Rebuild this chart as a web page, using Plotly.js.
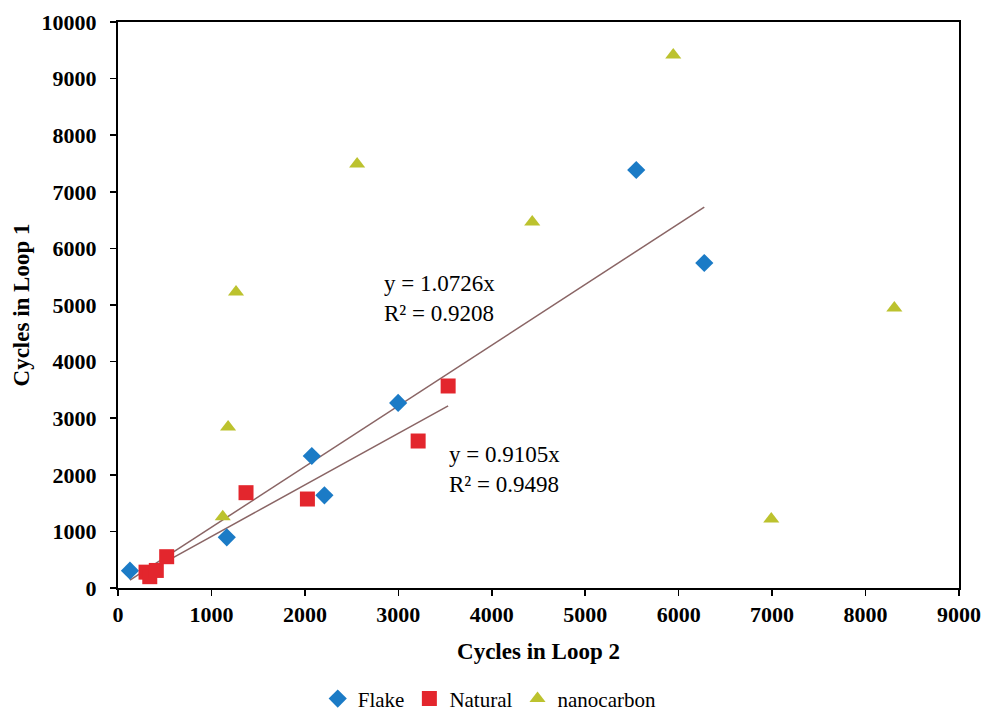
<!DOCTYPE html>
<html><head><meta charset="utf-8">
<script src="https://cdn.plot.ly/plotly-3.0.1.min.js"></script>
<style>body{margin:0;background:#fff}#c{width:983px;height:713px}</style>
</head><body><div id="c"></div>
<script>
var flakeX = [128, 1164, 2074, 2209, 2998, 5546, 6274];
var flakeY = [306, 896, 2332, 1638, 3269, 7385, 5742];
var naturalX = [300, 340, 410, 521, 1370, 2027, 3212, 3533];
var naturalY = [280, 200, 310, 553, 1684, 1572, 2597, 3569];
var nanoX = [1121, 1178, 1263, 2559, 4433, 5942, 6991, 8308];
var nanoY = [1260, 2845, 5230, 7491, 6466, 9417, 1219, 4947];
var flakeSlope = 1.0726, flakeR2 = 0.9208;
var naturalSlope = 0.9105, naturalR2 = 0.9498;
var xTicks = [0,1000,2000,3000,4000,5000,6000,7000,8000,9000];
var yTicks = [0,1000,2000,3000,4000,5000,6000,7000,8000,9000,10000];

function fitLine(xs, k){
  var a = Math.min.apply(null, xs), b = Math.max.apply(null, xs);
  return {x:[a,b], y:[a*k,b*k]};
}
var f1 = fitLine(flakeX, flakeSlope), f2 = fitLine(naturalX, naturalSlope);
var serif = 'Liberation Serif, Times New Roman, serif';
var data = [
  {x:f1.x, y:f1.y, mode:'lines', line:{color:'#8a6565', width:1.5}, showlegend:false, hoverinfo:'skip'},
  {x:f2.x, y:f2.y, mode:'lines', line:{color:'#8a6565', width:1.5}, showlegend:false, hoverinfo:'skip'},
  {x:flakeX, y:flakeY, mode:'markers', name:'Flake', marker:{symbol:'diamond', size:14, color:'#1b7bc6'}},
  {x:naturalX, y:naturalY, mode:'markers', name:'Natural', marker:{symbol:'square', size:15, color:'#e3262d'}},
  {x:nanoX, y:nanoY, mode:'markers', name:'nanocarbon', marker:{symbol:'triangle-up', size:14, color:'#bcc22e'}}
];
var layout = {
  width:983, height:713,
  margin:{l:118, r:24, t:22, b:125, autoexpand:false},
  paper_bgcolor:'#fff', plot_bgcolor:'#fff',
  font:{family:serif, color:'#000', size:22},
  xaxis:{range:[0,9000], tickvals:xTicks, ticktext:xTicks.map(String), showgrid:false, zeroline:false,
    showline:true, mirror:true, linecolor:'#000', linewidth:2, ticks:'outside', ticklen:6, tickwidth:1.5, tickcolor:'#000',
    tickfont:{family:serif, size:22, weight:'bold'},
    title:{text:'<b>Cycles in Loop 2</b>', font:{family:serif, size:23}, standoff:16}},
  yaxis:{range:[0,10000], tickvals:yTicks, ticktext:yTicks.map(String), showgrid:false, zeroline:false,
    showline:true, mirror:true, linecolor:'#000', linewidth:2, ticks:'outside', ticklen:6, tickwidth:1.5, tickcolor:'#000',
    ticklabelstandoff:9,
    tickfont:{family:serif, size:22, weight:'bold'},
    title:{text:'<b>Cycles in Loop 1</b>', font:{family:serif, size:23}, standoff:6}},
  legend:{orientation:'h', x:0.442, xanchor:'center', y:-0.196, yanchor:'middle', font:{family:serif, size:21}, itemwidth:30, tracegroupgap:0},
  annotations:[
    {x:2827, y:5120, xref:'x', yref:'y', xanchor:'left', yanchor:'middle', align:'left', showarrow:false,
      text:'y = '+flakeSlope.toFixed(4)+'x<br>R² = '+flakeR2.toFixed(4), font:{family:serif, size:23}},
    {x:3522, y:2085, xref:'x', yref:'y', xanchor:'left', yanchor:'middle', align:'left', showarrow:false,
      text:'y = '+naturalSlope.toFixed(4)+'x<br>R² = '+naturalR2.toFixed(4), font:{family:serif, size:23}}
  ]
};
Plotly.newPlot('c', data, layout, {displayModeBar:false, staticPlot:true});
</script></body></html>
